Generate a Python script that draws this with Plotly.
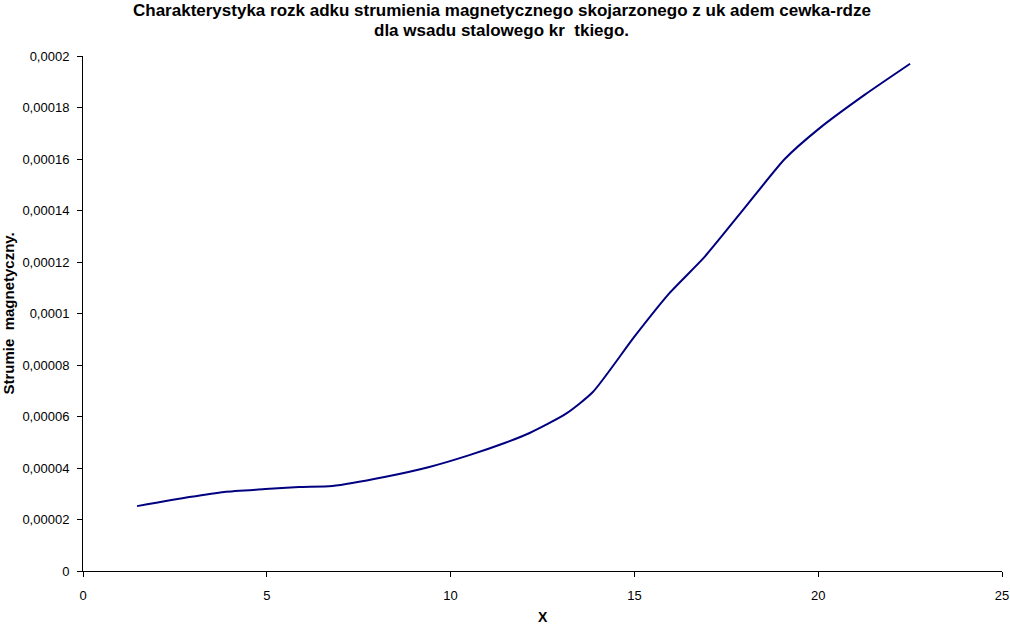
import plotly.graph_objects as go

# dane
x_vals = [1.47, 2.89, 3.84, 4.96, 5.88, 6.78, 8.2, 9.42, 10.51, 11.47, 12.15,
          13.13, 13.87, 15.0, 15.96, 16.91, 18.0, 19.09, 20.04, 21.27, 22.5]
flux = [25.2e-6, 28.7e-6, 30.7e-6, 31.8e-6, 32.6e-6, 33.0e-6, 36.5e-6, 40.4e-6,
        45.0e-6, 49.7e-6, 53.6e-6, 61.0e-6, 69.5e-6, 91.0e-6, 108e-6, 122e-6,
        141e-6, 160e-6, 172e-6, 185e-6, 197e-6]

y_ticks = [0, 0.00002, 0.00004, 0.00006, 0.00008, 0.0001, 0.00012, 0.00014,
           0.00016, 0.00018, 0.0002]
y_tick_text = ["0", "0,00002", "0,00004", "0,00006", "0,00008", "0,0001",
               "0,00012", "0,00014", "0,00016", "0,00018", "0,0002"]
x_ticks = [0, 5, 10, 15, 20, 25]

title_lines = ['Charakterystyka rozk adku strumienia magnetycznego skojarzonego z uk adem cewka-rdze',
               'dla wsadu stalowego kr  tkiego.']

FONT = 'Liberation Sans, Arial, sans-serif'

fig = go.Figure()
fig.add_trace(go.Scatter(
    x=x_vals,
    y=flux,
    mode='lines',
    line=dict(color='#000080', width=2, shape='spline', smoothing=0.6),
    showlegend=False,
    hoverinfo='skip'
))

axis_common = dict(
    showgrid=False,
    zeroline=False,
    tickcolor='black',
    ticklen=5,
    automargin=False,
    tickfont=dict(family=FONT, size=13, color='black'),
)

fig.update_layout(
    width=1010,
    height=628,
    margin=dict(l=83, r=8, t=56, b=57),
    paper_bgcolor='white',
    plot_bgcolor='white',
    font=dict(family=FONT, color='black'),
    xaxis=dict(range=[0, 25], tickvals=x_ticks, showline=True, linecolor='black',
               linewidth=1, ticks='outside', ticklabelstandoff=7, **axis_common),
    yaxis=dict(range=[0, 0.0002], tickvals=y_ticks, ticktext=y_tick_text, showline=True,
               linecolor='black', linewidth=1, ticks='outside', ticklabelstandoff=5,
               **axis_common),
    # druga para osi tylko po to, żeby znaczniki przecinały oś
    xaxis2=dict(range=[0, 25], tickvals=x_ticks, overlaying='x', anchor='y', side='bottom',
                ticks='inside', showticklabels=False, showline=False, **axis_common),
    yaxis2=dict(range=[0, 0.0002], tickvals=y_ticks, overlaying='y', anchor='x', side='left',
                ticks='inside', showticklabels=False, showline=False, **axis_common),
)

# tytuł - dwie linie
for i, line in enumerate(title_lines):
    fig.add_annotation(
        text='<b>' + line + '</b>', xref='paper', yref='paper', x=0.5, y=1,
        xshift=-41, yshift=46 - 20 * i, xanchor='center', yanchor='middle',
        showarrow=False,
        font=dict(size=17, family=FONT, color='black'),
    )
# opis osi X
fig.add_annotation(
    text='<b>X</b>', xref='paper', yref='paper', x=0.5, y=0,
    yshift=-46, xanchor='center', yanchor='middle', showarrow=False,
    font=dict(size=14, family=FONT, color='black'),
)
# opis osi Y
fig.add_annotation(
    text='<b>Strumie  magnetyczny.</b>', xref='paper', yref='paper', x=0, y=0.5,
    xshift=-75, xanchor='center', yanchor='middle', textangle=-90, showarrow=False,
    font=dict(size=15, family=FONT, color='black'),
)

fig.write_html("out.html", config={'displayModeBar': False},
               post_script="document.body.style.margin='0';")
